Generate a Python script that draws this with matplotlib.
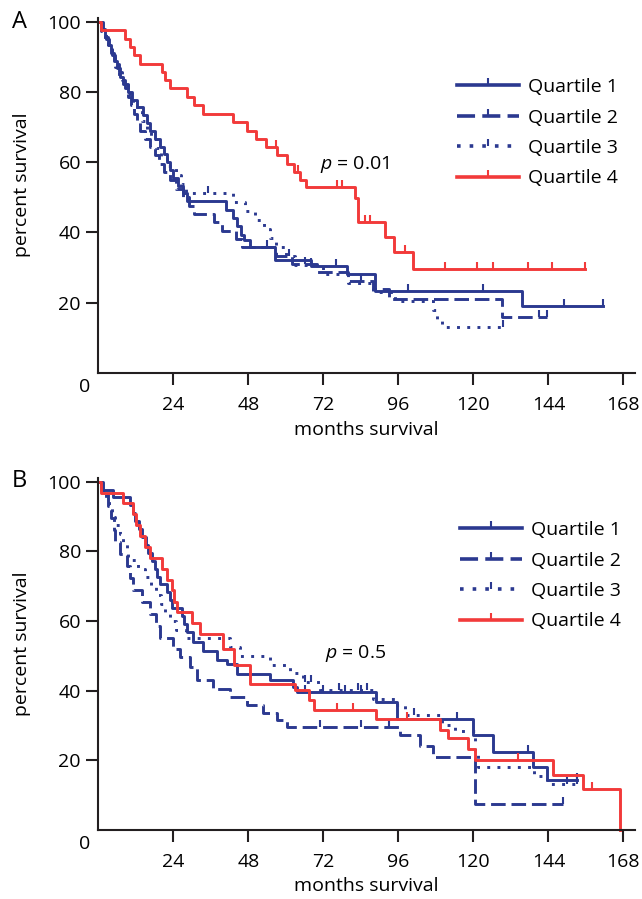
import numpy as np
import matplotlib.pyplot as plt
from matplotlib.lines import Line2D

plt.rcParams['font.family'] = ['Open Sans', 'DejaVu Sans']
plt.rcParams['font.size'] = 14
plt.rcParams['mathtext.fontset'] = 'custom'
plt.rcParams['mathtext.it'] = 'Open Sans:italic'

NAVY = '#2b3990'
RED = '#f23a3a'

labels = ['Quartile 1', 'Quartile 2', 'Quartile 3', 'Quartile 4']
xticks = [24, 48, 72, 96, 120, 144, 168]
yticks = [20, 40, 60, 80, 100]

# ---- panel A ----
a_q1_t = [0, 1, 2, 3, 4, 5, 6, 7, 8, 9.5, 10.7, 12.5, 14.4, 15.5, 16.5, 18, 19.7, 21, 22, 23, 24, 25.5, 27.2,
          28.3, 41, 43.2, 44.3, 45.5, 46.5, 48.5, 56.5, 68, 79.5, 88.5, 135.5, 161.6]
a_q1_s = [100, 97.8, 95.6, 93.3, 91.1, 88.9, 86.7, 84.4, 82.2, 80, 77.8, 75.6, 73.3, 71.1, 68.9, 66.7, 64.4, 62.2,
          60, 57.8, 55.6, 53.3, 51.1, 48.9, 46.5, 44.1, 41.7, 39.3, 37.7, 35.8, 32.0, 30.5, 28.2, 23.4, 19.1, 19.1]
a_q1_cens = [54, 76, 99, 123, 149, 161.6]

a_q2_t = [0, 1.5, 2.5, 3.5, 4.5, 5.5, 6.5, 7.5, 8.5, 9.5, 10.5, 11.5, 12.5, 13.5, 15, 16.5, 18, 19.5, 21, 23, 25,
          27, 29, 30.5, 37, 39.5, 44, 46, 57, 62, 70, 80, 88, 93, 129, 143.5]
a_q2_s = [100, 97.6, 95.2, 92.9, 90.5, 88.1, 85.7, 83.3, 81.0, 78.6, 76.2, 73.8, 71.4, 69.0, 66.7, 64.3, 61.9, 59.5,
          57.1, 54.8, 52.4, 50.0, 47.6, 45.2, 42.9, 40.5, 38.1, 35.7, 33.3, 31.0, 28.6, 26.2, 23.9, 21.0, 15.8, 15.8]
a_q2_cens = [66, 84, 141, 143.5]

a_q3_t = [0, 1, 2, 3, 4.5, 5.5, 6.5, 8, 9.5, 11, 12.5, 14, 15.5, 17, 18.5, 20, 22, 25, 26.5, 28, 43, 47, 50, 53,
          55, 57, 60, 63, 72, 80, 88, 95, 107, 108.5, 110, 129.5]
a_q3_s = [100, 97.4, 94.9, 92.3, 89.7, 87.2, 84.6, 82.1, 79.5, 76.9, 74.4, 71.8, 69.2, 66.7, 64.1, 61.5, 59.0, 56.4,
          53.8, 51.3, 48.7, 46.2, 43.6, 41.0, 38.5, 35.9, 33.3, 30.8, 28.2, 25.6, 23.1, 20.5, 17.9, 15.4, 13.0, 13.0]
a_q3_cens = [35, 61, 68, 129.5]

a_q4_t = [0, 1, 8.5, 10, 11.5, 13.5, 20.3, 21.5, 23, 28.3, 30.5, 33.5, 43.1, 47.5, 50.5, 53.8, 57.1, 60.3, 62.5,
          64.5, 66.5, 82, 83, 91.7, 94.5, 100.8, 155.7]
a_q4_s = [100, 97.6, 95.2, 92.9, 90.5, 88.1, 85.7, 83.3, 81.0, 78.6, 76.2, 73.8, 71.4, 69.0, 66.7, 64.3, 62.0, 59.6,
          57.2, 54.8, 53.0, 49.7, 43.0, 38.7, 34.4, 29.6, 29.6]
a_q4_cens = [57, 64, 76.3, 77.9, 85.3, 86.9, 98.1, 110.9, 121.1, 126.4, 137.6, 145.1, 155.7]

# ---- panel B ----
b_q1_t = [0, 1, 4.8, 10, 11.2, 11.8, 13, 14, 15.2, 16, 17.1, 18.1, 18.8, 19.7, 21.9, 23, 23.5, 26.7, 27.5, 28.3,
          30.4, 33.6, 37.9, 41.1, 44.3, 55, 62.4, 63.5, 89, 95.5, 120, 126.4, 139.2, 143.5, 153.1]
b_q1_s = [100, 97.7, 95.5, 93.2, 90.9, 88.6, 86.4, 84.1, 81.8, 79.5, 77.3, 75.0, 72.7, 70.5, 68.2, 65.9, 63.6, 61.4,
          59.1, 56.8, 54.1, 51.4, 48.9, 47.6, 44.9, 43.0, 41.1, 39.6, 36.8, 32.0, 27.2, 22.4, 18.1, 14.3, 14.3]
b_q1_cens = [66, 72, 79, 84, 114.7, 137.6, 153.1]

b_q2_t = [0, 1.5, 3, 4, 5, 5.5, 7, 9.1, 10.2, 11.2, 14, 16.5, 18.5, 19.7, 24, 26.1, 29.3, 31.5, 36.8, 42.1, 47.5,
          52.8, 57.1, 60.3, 96.5, 103, 107, 120.5, 148.8]
b_q2_s = [100, 96.6, 93.1, 89.7, 86.2, 82.8, 79.3, 75.9, 72.4, 69.0, 65.5, 62.1, 58.6, 55.2, 52.1, 49.7, 46.8, 43.0,
          40.6, 38.2, 35.8, 33.6, 31.5, 29.6, 27.2, 24.1, 21.0, 7.6, 7.6]
b_q2_cens = [71, 84, 93, 148.8]

b_q3_t = [0, 1, 2.5, 3.5, 4.5, 5.5, 6.9, 8, 9.1, 9.6, 12.8, 15, 17, 18.5, 20, 21.5, 23, 25, 28, 42.1, 45.3, 55,
          61.3, 65.6, 70.9, 88, 95, 98, 110, 114, 120.5, 121.5, 139.5, 143.5, 153]
b_q3_s = [100, 97.5, 95, 92.5, 90, 87.5, 85, 82.5, 80, 77.5, 75, 72.5, 70, 67.5, 65, 62.5, 60, 57.5, 55, 52.5, 50,
          47.5, 45, 42.5, 40.1, 37.7, 35.8, 33.0, 30.2, 28.3, 22.6, 18.1, 15.6, 13.3, 13.3]
b_q3_cens = [66, 68, 77, 83, 86, 101, 150, 153]

b_q4_t = [0, 1, 8, 11.2, 12, 13.3, 15, 16.5, 20.3, 21.9, 23.5, 24.3, 25.1, 29.9, 32.5, 40, 43.5, 48.5, 63, 67.5,
          69, 89, 109.3, 112, 118.4, 120.5, 145.6, 155.2, 167]
b_q4_s = [100, 96.9, 93.8, 90.6, 87.5, 84.4, 81.3, 78.1, 75, 71.9, 68.8, 65.6, 62.5, 59.4, 56.3, 52.1, 47.3, 42.0,
          40.1, 37.2, 34.4, 32.0, 28.7, 26.3, 23.4, 20.1, 15.8, 11.9, 0]
b_q4_cens = [76.3, 81.6, 98.7, 134.4, 157.9]

styles = [(NAVY, '-'), (NAVY, (0, (5, 2))), (NAVY, (0, (1, 2.5))), (RED, '-')]


def draw_curve(ax, t, s, cens, color, ls):
    t = np.array(t)
    s = np.array(s)
    ax.step(t, s, where='post', color=color, linestyle=ls, lw=2.1, clip_on=False)
    idx = np.searchsorted(t, cens, side='right') - 1
    ax.plot(cens, s[idx], linestyle='none', marker=2, markersize=5, mew=1.5, color=color, clip_on=False)


def setup_axes(ax, ptext, ppos, legend_anchor):
    ax.set_xlim(0, 171.7)
    ax.set_ylim(0, 101)
    ax.set_xticks(xticks)
    ax.set_yticks(yticks)
    for side in ['top', 'right']:
        ax.spines[side].set_visible(False)
    for side in ['left', 'bottom']:
        ax.spines[side].set_linewidth(1.5)
        ax.spines[side].set_color('#231f20')
    ax.tick_params(axis='both', direction='out', length=8.5, width=1.5, color='#231f20', labelsize=14)
    ax.tick_params(axis='x', pad=8)
    ax.tick_params(axis='y', pad=4)
    ax.set_xlabel('months survival', fontsize=14)
    ax.set_ylabel('percent survival', fontsize=14)
    ax.xaxis.set_label_coords(0.5, -0.135)
    ax.yaxis.set_label_coords(-0.126, 0.53)
    ax.annotate('0', xy=(0, 0), xytext=(-10, -10), textcoords='offset points', ha='center', va='center', fontsize=14)
    ax.text(ppos[0], ppos[1], ptext, ha='left', va='center', fontsize=14)

    handles = [Line2D([], [], color=c, linestyle=ls, lw=2.6, marker=2, markersize=5, mew=1.5) for c, ls in styles]
    ax.legend(handles, labels, loc='upper left', bbox_to_anchor=legend_anchor, frameon=False, numpoints=1,
              handlelength=3.2, handletextpad=0.45, labelspacing=0.64, borderaxespad=0, borderpad=0, fontsize=14)


fig = plt.figure(figsize=(6.42, 8.99), dpi=100)
ax1 = fig.add_axes([0.1531, 0.5854, 0.836, 0.3943])
ax2 = fig.add_axes([0.1531, 0.07675, 0.836, 0.3913])

panel_a = [(a_q1_t, a_q1_s, a_q1_cens), (a_q2_t, a_q2_s, a_q2_cens), (a_q3_t, a_q3_s, a_q3_cens),
           (a_q4_t, a_q4_s, a_q4_cens)]
panel_b = [(b_q1_t, b_q1_s, b_q1_cens), (b_q2_t, b_q2_s, b_q2_cens), (b_q3_t, b_q3_s, b_q3_cens),
           (b_q4_t, b_q4_s, b_q4_cens)]

for (t, s, cens), (c, ls) in zip(panel_a, styles):
    draw_curve(ax1, t, s, cens, c, ls)
for (t, s, cens), (c, ls) in zip(panel_b, styles):
    draw_curve(ax2, t, s, cens, c, ls)

setup_axes(ax1, '$\\it{p}$ = 0.01', (70.9, 59.3), (0.668, 0.831))
setup_axes(ax2, '$\\it{p}$ = 0.5', (72.5, 50.7), (0.674, 0.878))

fig.text(19.5 / 642, 1 - 22.5 / 899, 'A', ha='center', va='center', fontsize=17)
fig.text(19.5 / 642, 1 - 481 / 899, 'B', ha='center', va='center', fontsize=17)

fig.savefig('out.png', dpi=100)
